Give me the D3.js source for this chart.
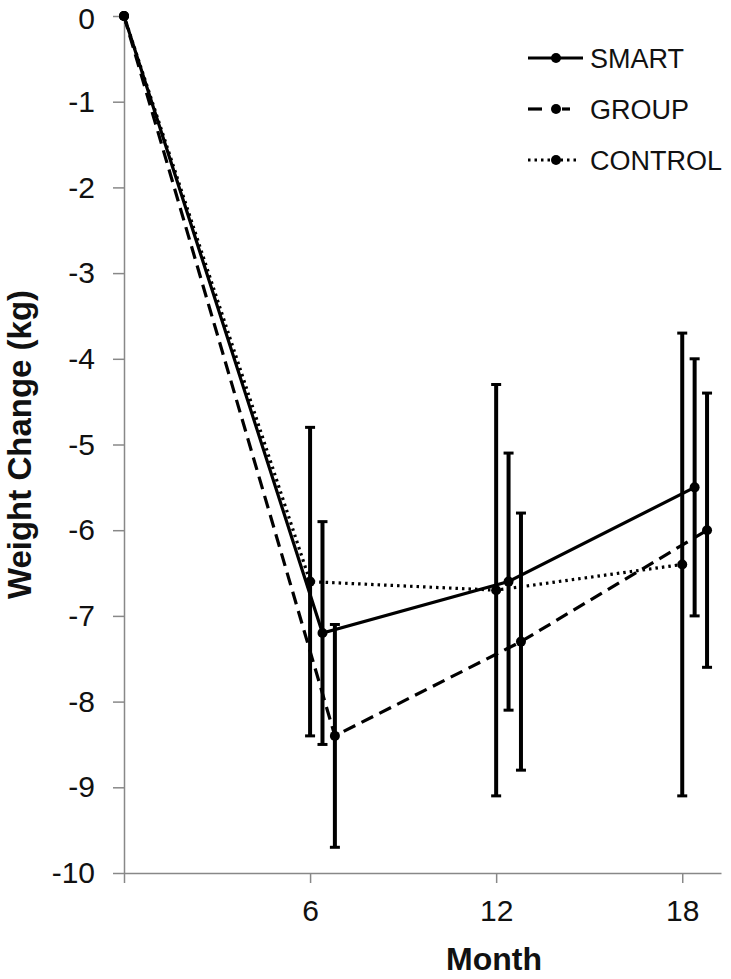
<!DOCTYPE html>
<html>
<head>
<meta charset="utf-8">
<script src="https://cdn.jsdelivr.net/npm/d3@7/dist/d3.min.js"></script>
<style>
  html, body { margin: 0; padding: 0; background: #fff; }
  svg { display: block; }
</style>
</head>
<body>
<svg id="chart" width="731" height="979"></svg>
<script>
// ---------------- DATA ----------------
const months = [0, 6, 12, 18];
const xTickValues = [0, 6, 12, 18];
const xTickLabels = ["", "6", "12", "18"];
const yTickValues = [0, -1, -2, -3, -4, -5, -6, -7, -8, -9, -10];

const seriesNames = ["SMART", "GROUP", "CONTROL"];
const smartValues   = [0, -7.2, -6.6, -5.5];
const groupValues   = [0, -8.4, -7.3, -6.0];
const controlValues = [0, -6.6, -6.7, -6.4];

// error bar half-widths (kg), null at baseline
const smartErr   = [null, 1.3, 1.5, 1.5];
const groupErr   = [null, 1.3, 1.5, 1.6];
const controlErr = [null, 1.8, 2.4, 2.7];

// horizontal offsets (months) so bars do not overlap
const seriesOffsets = [0.4, 0.8, 0];

// ---------------- LAYOUT ----------------
const svg = d3.select("#chart");
const plotLeft = 124, plotRight = 721, plotTop = 16, plotBottom = 873;
const axisColor = "#888888";

const x = d3.scaleLinear().domain([0, 19.25]).range([plotLeft, plotRight]);
const y = d3.scaleLinear().domain([-10, 0]).range([plotBottom, plotTop]);

const series = [
  { name: "SMART",   values: smartValues,   err: smartErr,   offset: seriesOffsets[0], dash: null },
  { name: "GROUP",   values: groupValues,   err: groupErr,   offset: seriesOffsets[1], dash: "13,7" },
  { name: "CONTROL", values: controlValues, err: controlErr, offset: seriesOffsets[2], dash: "2.5,4" }
];
series.forEach(s => {
  s.points = months.map((m, i) => ({
    mx: m === 0 ? 0 : m + s.offset,
    v: s.values[i],
    e: s.err[i]
  }));
});

// ---------------- AXES ----------------
const yAxis = d3.axisLeft(y)
  .tickValues(yTickValues)
  .tickFormat(d => String(d))
  .tickSize(11)
  .tickSizeOuter(0)
  .tickPadding(18);

const yg = svg.append("g").attr("transform", `translate(${plotLeft},0)`).call(yAxis);

const xAxis = d3.axisBottom(x)
  .tickValues(xTickValues)
  .tickFormat((d, i) => xTickLabels[i])
  .tickSize(10)
  .tickSizeOuter(0)
  .tickPadding(17);

const xg = svg.append("g").attr("transform", `translate(0,${plotBottom})`).call(xAxis);

[yg, xg].forEach(g => {
  g.attr("font-family", null).attr("font-size", null);
  g.select(".domain").attr("stroke", axisColor).attr("stroke-width", 1.5);
  g.selectAll(".tick line").attr("stroke", axisColor).attr("stroke-width", 1.5);
  g.selectAll(".tick text")
    .attr("fill", "#111")
    .style("font-family", "'Liberation Sans', Arial, sans-serif")
    .style("font-size", "30px");
});
// keep the top "0" label's text box inside the picture
yg.selectAll(".tick text").filter(d => d === 0).attr("dy", "0.42em");

// axis titles
svg.append("text")
  .attr("x", 494).attr("y", 970)
  .attr("text-anchor", "middle")
  .style("font-family", "'Liberation Sans', Arial, sans-serif")
  .style("font-weight", "bold")
  .style("font-size", "32px")
  .attr("fill", "#111")
  .text("Month");

svg.append("text")
  .attr("transform", `translate(31,${(plotTop + plotBottom) / 2}) rotate(-90)`)
  .attr("text-anchor", "middle")
  .style("font-family", "'Liberation Sans', Arial, sans-serif")
  .style("font-weight", "bold")
  .style("font-size", "33px")
  .attr("fill", "#111")
  .text("Weight Change (kg)");

// ---------------- LINES ----------------
const line = d3.line().x(d => x(d.mx)).y(d => y(d.v));
const plot = svg.append("g");

series.forEach(s => {
  plot.append("path")
    .datum(s.points)
    .attr("d", line)
    .attr("fill", "none")
    .attr("stroke", "#000")
    .attr("stroke-width", 3.2)
    .attr("stroke-dasharray", s.dash);
});

// ---------------- ERROR BARS ----------------
series.forEach(s => {
  const pts = s.points.filter(p => p.e != null);
  const g = plot.append("g");
  g.selectAll("line.bar").data(pts).join("line").attr("class", "bar")
    .attr("x1", p => x(p.mx)).attr("x2", p => x(p.mx))
    .attr("y1", p => y(p.v + p.e)).attr("y2", p => y(p.v - p.e))
    .attr("stroke", "#000").attr("stroke-width", 4);
  g.selectAll("line.capT").data(pts).join("line").attr("class", "capT")
    .attr("x1", p => x(p.mx) - 5).attr("x2", p => x(p.mx) + 5)
    .attr("y1", p => y(p.v + p.e)).attr("y2", p => y(p.v + p.e))
    .attr("stroke", "#000").attr("stroke-width", 3);
  g.selectAll("line.capB").data(pts).join("line").attr("class", "capB")
    .attr("x1", p => x(p.mx) - 5).attr("x2", p => x(p.mx) + 5)
    .attr("y1", p => y(p.v - p.e)).attr("y2", p => y(p.v - p.e))
    .attr("stroke", "#000").attr("stroke-width", 3);
});

// ---------------- MARKERS ----------------
series.forEach(s => {
  plot.append("g").selectAll("circle").data(s.points).join("circle")
    .attr("cx", p => x(p.mx)).attr("cy", p => y(p.v))
    .attr("r", 5).attr("fill", "#000");
});

// ---------------- LEGEND ----------------
const legend = svg.append("g");
const legX1 = 528, legX2 = 583, legMid = 556, legTextX = 590;
const legY0 = 58, legStep = 51;
series.forEach((s, i) => {
  const ly = legY0 + i * legStep;
  if (s.name === "GROUP") {
    legend.append("line").attr("x1", legX1).attr("x2", legX1 + 14).attr("y1", ly).attr("y2", ly)
      .attr("stroke", "#000").attr("stroke-width", 3.2);
    legend.append("line").attr("x1", legMid + 6).attr("x2", legMid + 14).attr("y1", ly).attr("y2", ly)
      .attr("stroke", "#000").attr("stroke-width", 3.2);
  } else {
    legend.append("line").attr("x1", legX1).attr("x2", s.name === "CONTROL" ? legX1 + 50 : legX2)
      .attr("y1", ly).attr("y2", ly)
      .attr("stroke", "#000").attr("stroke-width", 3.2)
      .attr("stroke-dasharray", s.dash);
  }
  legend.append("circle").attr("cx", legMid).attr("cy", ly).attr("r", 5).attr("fill", "#000");
  legend.append("text")
    .attr("x", legTextX).attr("y", ly + 10)
    .style("font-family", "'Liberation Sans', Arial, sans-serif")
    .style("font-size", "27px")
    .attr("fill", "#111")
    .text(seriesNames[i]);
});
</script>
</body>
</html>
